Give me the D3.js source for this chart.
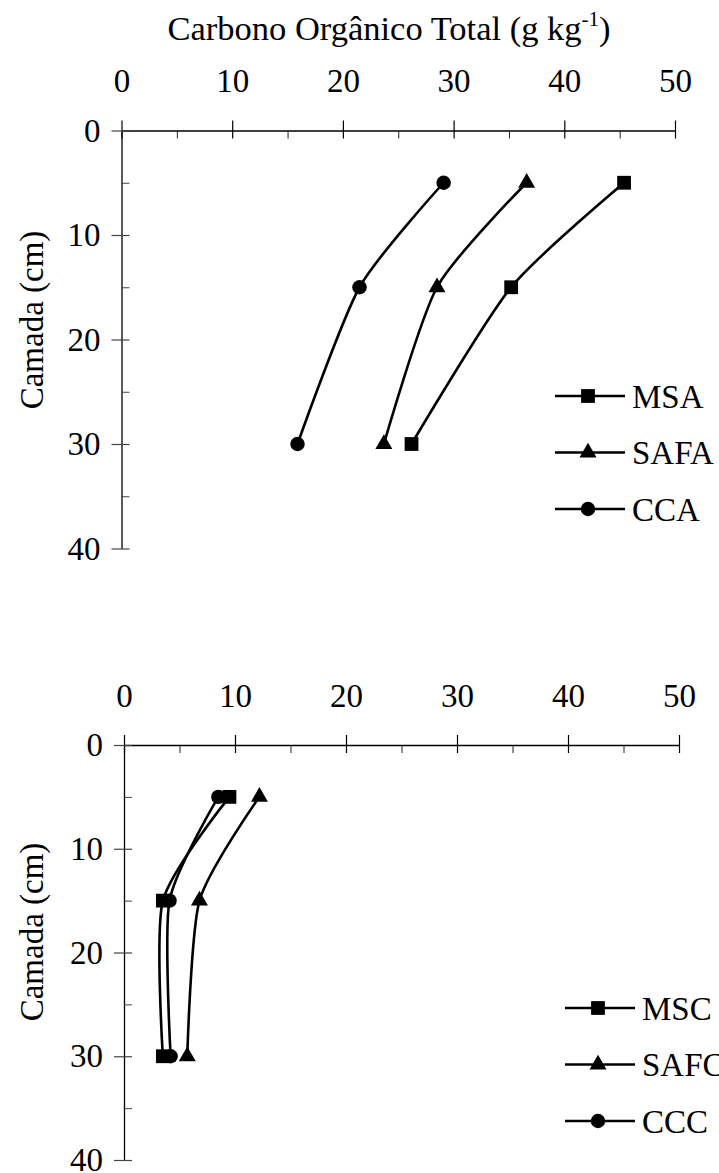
<!DOCTYPE html>
<html>
<head>
    <meta charset="utf-8" />
    <title>Carbono Orgânico Total</title>
    <style>
        body { margin: 0; background: #fff; }
        svg { display: block; }
        .serie { fill: none; stroke: #000; stroke-width: 2.6; }
    </style>
    <script src="https://d3js.org/d3.v7.min.js"></script>
</head>
<body>
<script>

// data
let camada = [5, 15, 30];
let xTicks = [0, 10, 20, 30, 40, 50];
let xMinor = [5, 15, 25, 35, 45];
let yTicks = [0, 10, 20, 30, 40];
let yMinor = [5, 15, 25, 35];

let nomesA = ["MSA", "SAFA", "CCA"];
let msa  = [45.4, 35.2, 26.2];
let safa = [36.6, 28.5, 23.7];
let cca  = [29.1, 21.5, 15.9];

let nomesC = ["MSC", "SAFC", "CCC"];
let msc  = [9.5, 3.5, 3.5];
let safc = [12.2, 6.8, 5.7];
let ccc  = [8.5, 4.1, 4.2];

let simbolos = [d3.symbolSquare, d3.symbolTriangle, d3.symbolCircle];
let tamanhos = [190, 125, 165];

let fonte = "'Liberation Serif', 'Times New Roman', Times, serif";

let W = 719, H = 1173;

let svg = d3.select("body")
    .append("svg")
    .attr("width", W)
    .attr("height", H)
    .style("font-family", fonte);

// title
let titulo = svg.append("text")
    .attr("x", 389)
    .attr("y", 40)
    .attr("text-anchor", "middle")
    .style("font-family", fonte)
    .style("font-size", "34.5px");
titulo.append("tspan").text("Carbono Orgânico Total (g kg");
titulo.append("tspan").attr("dy", -14).style("font-size", "21px").text("-1");
titulo.append("tspan").attr("dy", 14).text(")");

function painel(p) {
    let x = d3.scaleLinear().domain([0, 50]).range([p.x0, p.x1]);
    let y = d3.scaleLinear().domain([0, 40]).range([p.y0, p.y1]);

    // x axis on top
    let gx = svg.append("g")
        .attr("transform", "translate(0," + p.y0 + ")")
        .attr("color", "#000")
        .call(d3.axisTop(x).tickValues(xTicks).tickSizeInner(10).tickSizeOuter(0).tickPadding(28.5));
    gx.selectAll("text").style("font-family", fonte).style("font-size", "33px");
    gx.selectAll(".tick line").attr("y1", 8).attr("stroke-width", 1.2);
    gx.select(".domain").attr("stroke-width", 1.3);

    svg.append("g")
        .attr("transform", "translate(0," + p.y0 + ")")
        .attr("color", "#222")
        .call(d3.axisBottom(x).tickValues(xMinor).tickSize(8).tickFormat(""))
        .call(g => g.select(".domain").remove());

    // y axis
    let gy = svg.append("g")
        .attr("transform", "translate(" + p.x0 + ",0)")
        .attr("color", "#000")
        .call(d3.axisLeft(y).tickValues(yTicks).tickSizeInner(10).tickSizeOuter(0).tickPadding(11));
    gy.selectAll("text").style("font-family", fonte).style("font-size", "33px");
    gy.selectAll(".tick line").attr("x1", 8).attr("stroke", "#444").attr("stroke-width", 1.2);
    gy.select(".domain").attr("stroke-width", 1.3);

    svg.append("g")
        .attr("transform", "translate(" + p.x0 + ",0)")
        .attr("color", "#444")
        .call(d3.axisRight(y).tickValues(yMinor).tickSize(8).tickFormat(""))
        .call(g => g.select(".domain").remove());

    // y title
    svg.append("text")
        .attr("transform", "translate(" + 43 + "," + p.ty + ") rotate(-90)")
        .attr("text-anchor", "middle")
        .style("font-family", fonte)
        .style("font-size", "33px")
        .text("Camada (cm)");

    let linha = d3.line()
        .x(d => x(d[0]))
        .y(d => y(d[1]))
        .curve(d3.curveCardinal.tension(0.3));

    p.series.forEach((s, i) => {
        let pts = s.map((v, j) => [v, camada[j]]);
        svg.append("path")
            .attr("class", "serie")
            .attr("d", linha(pts));
        svg.selectAll(null)
            .data(pts)
            .enter()
            .append("path")
            .attr("transform", d => "translate(" + x(d[0]) + "," + y(d[1]) + ")")
            .attr("d", d3.symbol().type(simbolos[i]).size(tamanhos[i]));
    });

    // legend
    let leg = svg.append("g");
    p.nomes.forEach((n, i) => {
        let ly = p.ly + i * 56.5;
        leg.append("line")
            .attr("x1", p.lx).attr("x2", p.lx + 70)
            .attr("y1", ly).attr("y2", ly)
            .attr("stroke", "#000").attr("stroke-width", 2.6);
        leg.append("path")
            .attr("transform", "translate(" + (p.lx + 33) + "," + ly + ")")
            .attr("d", d3.symbol().type(simbolos[i]).size(tamanhos[i]));
        leg.append("text")
            .attr("x", p.lx + 77)
            .attr("y", ly + 11.5)
            .style("font-family", fonte)
            .style("font-size", "33px")
            .text(n);
    });
}

painel({
    x0: 121.5, x1: 675, y0: 130.5, y1: 548.5, ty: 320,
    series: [msa, safa, cca], nomes: nomesA, lx: 555, ly: 396
});

painel({
    x0: 124, x1: 679, y0: 745, y1: 1160, ty: 932,
    series: [msc, safc, ccc], nomes: nomesC, lx: 565, ly: 1008
});

</script>
</body>
</html>
